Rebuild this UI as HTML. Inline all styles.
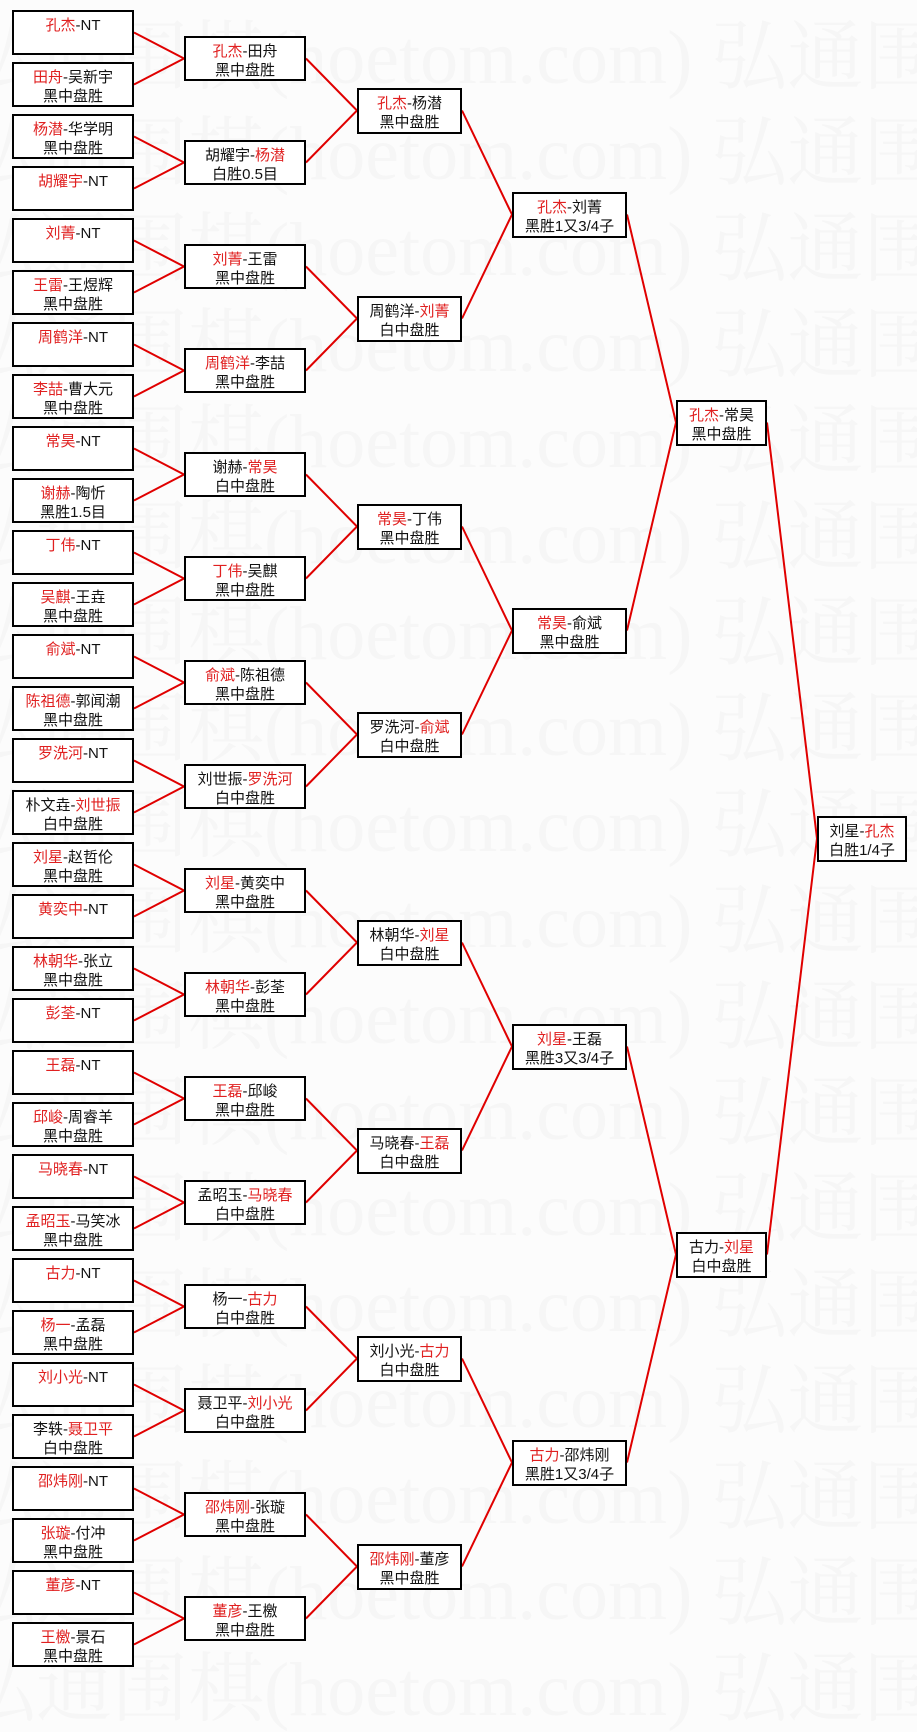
<!DOCTYPE html>
<html><head><meta charset="utf-8"><style>
body{margin:0;width:917px;height:1677px;position:relative;background:#fcfcfc;overflow:hidden}
.wm{position:absolute;left:0;width:917px;white-space:nowrap;font:76px/76px "Liberation Serif","Noto Serif CJK SC",serif;color:#f6f6f6}
.b{position:absolute;border:2px solid #000;background:#fff;text-align:center;font:15px/19px "Liberation Sans","Noto Sans CJK SC",sans-serif;color:#111;padding-top:4px;box-sizing:border-box;height:45px;white-space:nowrap}
.r{color:#e02020}
.c1{left:12px;width:122px}.c2{left:184px;width:122px}.c3{left:357px;width:105px;height:46px}
.c4{left:512px;width:115px;height:46px}.c5{left:676px;width:91px;height:46px}.c6{left:817px;width:90px;height:46px}
svg{position:absolute;left:0;top:0}
</style></head><body>
<div class="wm" style="top:20px;left:-40px">弘通围棋(hoetom.com) 弘通围棋</div>
<div class="wm" style="top:116px;left:-40px">弘通围棋(hoetom.com) 弘通围棋</div>
<div class="wm" style="top:212px;left:-40px">弘通围棋(hoetom.com) 弘通围棋</div>
<div class="wm" style="top:308px;left:-40px">弘通围棋(hoetom.com) 弘通围棋</div>
<div class="wm" style="top:404px;left:-40px">弘通围棋(hoetom.com) 弘通围棋</div>
<div class="wm" style="top:500px;left:-40px">弘通围棋(hoetom.com) 弘通围棋</div>
<div class="wm" style="top:596px;left:-40px">弘通围棋(hoetom.com) 弘通围棋</div>
<div class="wm" style="top:692px;left:-40px">弘通围棋(hoetom.com) 弘通围棋</div>
<div class="wm" style="top:788px;left:-40px">弘通围棋(hoetom.com) 弘通围棋</div>
<div class="wm" style="top:884px;left:-40px">弘通围棋(hoetom.com) 弘通围棋</div>
<div class="wm" style="top:980px;left:-40px">弘通围棋(hoetom.com) 弘通围棋</div>
<div class="wm" style="top:1076px;left:-40px">弘通围棋(hoetom.com) 弘通围棋</div>
<div class="wm" style="top:1172px;left:-40px">弘通围棋(hoetom.com) 弘通围棋</div>
<div class="wm" style="top:1268px;left:-40px">弘通围棋(hoetom.com) 弘通围棋</div>
<div class="wm" style="top:1364px;left:-40px">弘通围棋(hoetom.com) 弘通围棋</div>
<div class="wm" style="top:1460px;left:-40px">弘通围棋(hoetom.com) 弘通围棋</div>
<div class="wm" style="top:1556px;left:-40px">弘通围棋(hoetom.com) 弘通围棋</div>
<div class="wm" style="top:1652px;left:-40px">弘通围棋(hoetom.com) 弘通围棋</div>

<svg width="917" height="1677" fill="none" stroke="#e00000" stroke-width="2">
<path d="M134 32.5L184 58.5L134 84.5M134 136.5L184 162.5L134 188.5M134 240.5L184 266.5L134 292.5M134 344.5L184 370.5L134 396.5M134 448.5L184 474.5L134 500.5M134 552.5L184 578.5L134 604.5M134 656.5L184 682.5L134 708.5M134 760.5L184 786.5L134 812.5M134 864.5L184 890.5L134 916.5M134 968.5L184 994.5L134 1020.5M134 1072.5L184 1098.5L134 1124.5M134 1176.5L184 1202.5L134 1228.5M134 1280.5L184 1306.5L134 1332.5M134 1384.5L184 1410.5L134 1436.5M134 1488.5L184 1514.5L134 1540.5M134 1592.5L184 1618.5L134 1644.5"/>
<path d="M306 58.5L357 110.5L306 162.5M306 266.5L357 318.5L306 370.5M306 474.5L357 526.5L306 578.5M306 682.5L357 734.5L306 786.5M306 890.5L357 942.5L306 994.5M306 1098.5L357 1150.5L306 1202.5M306 1306.5L357 1358.5L306 1410.5M306 1514.5L357 1566.5L306 1618.5"/>
<path d="M462 110.5L512 214.5L462 318.5M462 526.5L512 630.5L462 734.5M462 942.5L512 1046.5L462 1150.5M462 1358.5L512 1462.5L462 1566.5"/>
<path d="M627 214.5L676 422.5L627 630.5M627 1046.5L676 1254.5L627 1462.5"/>
<path d="M767 422.5L817 838.5L767 1254.5"/>
</svg>

<div class="b c1" style="top:10px"><span class="r">孔杰</span>-NT</div>
<div class="b c1" style="top:62px"><span class="r">田舟</span>-吴新宇<br>黑中盘胜</div>
<div class="b c1" style="top:114px"><span class="r">杨潜</span>-华学明<br>黑中盘胜</div>
<div class="b c1" style="top:166px"><span class="r">胡耀宇</span>-NT</div>
<div class="b c1" style="top:218px"><span class="r">刘菁</span>-NT</div>
<div class="b c1" style="top:270px"><span class="r">王雷</span>-王煜辉<br>黑中盘胜</div>
<div class="b c1" style="top:322px"><span class="r">周鹤洋</span>-NT</div>
<div class="b c1" style="top:374px"><span class="r">李喆</span>-曹大元<br>黑中盘胜</div>
<div class="b c1" style="top:426px"><span class="r">常昊</span>-NT</div>
<div class="b c1" style="top:478px"><span class="r">谢赫</span>-陶忻<br>黑胜1.5目</div>
<div class="b c1" style="top:530px"><span class="r">丁伟</span>-NT</div>
<div class="b c1" style="top:582px"><span class="r">吴麒</span>-王垚<br>黑中盘胜</div>
<div class="b c1" style="top:634px"><span class="r">俞斌</span>-NT</div>
<div class="b c1" style="top:686px"><span class="r">陈祖德</span>-郭闻潮<br>黑中盘胜</div>
<div class="b c1" style="top:738px"><span class="r">罗洗河</span>-NT</div>
<div class="b c1" style="top:790px">朴文垚-<span class="r">刘世振</span><br>白中盘胜</div>
<div class="b c1" style="top:842px"><span class="r">刘星</span>-赵哲伦<br>黑中盘胜</div>
<div class="b c1" style="top:894px"><span class="r">黄奕中</span>-NT</div>
<div class="b c1" style="top:946px"><span class="r">林朝华</span>-张立<br>黑中盘胜</div>
<div class="b c1" style="top:998px"><span class="r">彭荃</span>-NT</div>
<div class="b c1" style="top:1050px"><span class="r">王磊</span>-NT</div>
<div class="b c1" style="top:1102px"><span class="r">邱峻</span>-周睿羊<br>黑中盘胜</div>
<div class="b c1" style="top:1154px"><span class="r">马晓春</span>-NT</div>
<div class="b c1" style="top:1206px"><span class="r">孟昭玉</span>-马笑冰<br>黑中盘胜</div>
<div class="b c1" style="top:1258px"><span class="r">古力</span>-NT</div>
<div class="b c1" style="top:1310px"><span class="r">杨一</span>-孟磊<br>黑中盘胜</div>
<div class="b c1" style="top:1362px"><span class="r">刘小光</span>-NT</div>
<div class="b c1" style="top:1414px">李轶-<span class="r">聂卫平</span><br>白中盘胜</div>
<div class="b c1" style="top:1466px"><span class="r">邵炜刚</span>-NT</div>
<div class="b c1" style="top:1518px"><span class="r">张璇</span>-付冲<br>黑中盘胜</div>
<div class="b c1" style="top:1570px"><span class="r">董彦</span>-NT</div>
<div class="b c1" style="top:1622px"><span class="r">王檄</span>-景石<br>黑中盘胜</div>

<div class="b c2" style="top:36px"><span class="r">孔杰</span>-田舟<br>黑中盘胜</div>
<div class="b c2" style="top:140px">胡耀宇-<span class="r">杨潜</span><br>白胜0.5目</div>
<div class="b c2" style="top:244px"><span class="r">刘菁</span>-王雷<br>黑中盘胜</div>
<div class="b c2" style="top:348px"><span class="r">周鹤洋</span>-李喆<br>黑中盘胜</div>
<div class="b c2" style="top:452px">谢赫-<span class="r">常昊</span><br>白中盘胜</div>
<div class="b c2" style="top:556px"><span class="r">丁伟</span>-吴麒<br>黑中盘胜</div>
<div class="b c2" style="top:660px"><span class="r">俞斌</span>-陈祖德<br>黑中盘胜</div>
<div class="b c2" style="top:764px">刘世振-<span class="r">罗洗河</span><br>白中盘胜</div>
<div class="b c2" style="top:868px"><span class="r">刘星</span>-黄奕中<br>黑中盘胜</div>
<div class="b c2" style="top:972px"><span class="r">林朝华</span>-彭荃<br>黑中盘胜</div>
<div class="b c2" style="top:1076px"><span class="r">王磊</span>-邱峻<br>黑中盘胜</div>
<div class="b c2" style="top:1180px">孟昭玉-<span class="r">马晓春</span><br>白中盘胜</div>
<div class="b c2" style="top:1284px">杨一-<span class="r">古力</span><br>白中盘胜</div>
<div class="b c2" style="top:1388px">聂卫平-<span class="r">刘小光</span><br>白中盘胜</div>
<div class="b c2" style="top:1492px"><span class="r">邵炜刚</span>-张璇<br>黑中盘胜</div>
<div class="b c2" style="top:1596px"><span class="r">董彦</span>-王檄<br>黑中盘胜</div>

<div class="b c3" style="top:88px"><span class="r">孔杰</span>-杨潜<br>黑中盘胜</div>
<div class="b c3" style="top:296px">周鹤洋-<span class="r">刘菁</span><br>白中盘胜</div>
<div class="b c3" style="top:504px"><span class="r">常昊</span>-丁伟<br>黑中盘胜</div>
<div class="b c3" style="top:712px">罗洗河-<span class="r">俞斌</span><br>白中盘胜</div>
<div class="b c3" style="top:920px">林朝华-<span class="r">刘星</span><br>白中盘胜</div>
<div class="b c3" style="top:1128px">马晓春-<span class="r">王磊</span><br>白中盘胜</div>
<div class="b c3" style="top:1336px">刘小光-<span class="r">古力</span><br>白中盘胜</div>
<div class="b c3" style="top:1544px"><span class="r">邵炜刚</span>-董彦<br>黑中盘胜</div>

<div class="b c4" style="top:192px"><span class="r">孔杰</span>-刘菁<br>黑胜1又3/4子</div>
<div class="b c4" style="top:608px"><span class="r">常昊</span>-俞斌<br>黑中盘胜</div>
<div class="b c4" style="top:1024px"><span class="r">刘星</span>-王磊<br>黑胜3又3/4子</div>
<div class="b c4" style="top:1440px"><span class="r">古力</span>-邵炜刚<br>黑胜1又3/4子</div>

<div class="b c5" style="top:400px"><span class="r">孔杰</span>-常昊<br>黑中盘胜</div>
<div class="b c5" style="top:1232px">古力-<span class="r">刘星</span><br>白中盘胜</div>

<div class="b c6" style="top:816px">刘星-<span class="r">孔杰</span><br>白胜1/4子</div>
</body></html>
